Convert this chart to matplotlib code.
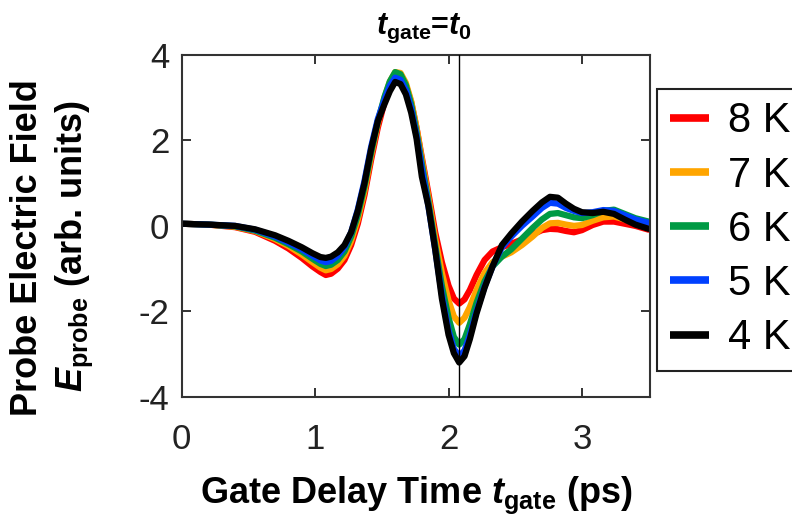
import numpy as np
import matplotlib
matplotlib.use('Agg')
import matplotlib.pyplot as plt

plt.rcParams['font.family'] = ['Liberation Sans', 'DejaVu Sans']
plt.rcParams['axes.unicode_minus'] = False
plt.rcParams['mathtext.fontset'] = 'custom'
plt.rcParams['mathtext.it'] = 'Liberation Sans:italic:bold'
plt.rcParams['mathtext.rm'] = 'Liberation Sans:bold'
plt.rcParams['mathtext.bf'] = 'Liberation Sans:bold'

# gate delay (ps)
t_gate = [0.00, 0.20, 0.40, 0.55, 0.70, 0.80, 0.90, 0.98, 1.04, 1.08, 1.12, 1.17,
          1.22, 1.27, 1.32, 1.37, 1.42, 1.47, 1.52, 1.56, 1.60, 1.64, 1.68, 1.72,
          1.76, 1.80, 1.85, 1.90, 1.95, 2.00, 2.04, 2.08, 2.12, 2.16, 2.21, 2.27,
          2.33, 2.40, 2.47, 2.55, 2.63, 2.70, 2.76, 2.82, 2.88, 2.94, 3.00, 3.08,
          3.16, 3.24, 3.32, 3.40, 3.50]

e_8K = [0.05, 0.03, -0.03, -0.14, -0.35, -0.53, -0.75, -0.95, -1.08, -1.15, -1.12, -1.00,
        -0.80, -0.45, 0.05, 0.72, 1.55, 2.30, 2.90, 3.30, 3.52, 3.52, 3.30, 2.90,
        2.30, 1.60, 0.75, -0.15, -0.85, -1.40, -1.70, -1.82, -1.72, -1.50, -1.15, -0.80,
        -0.60, -0.50, -0.42, -0.32, -0.20, -0.10, -0.07, -0.08, -0.12, -0.15, -0.10, 0.02,
        0.10, 0.10, 0.05, 0.00, -0.09]
e_7K = [0.05, 0.03, -0.02, -0.12, -0.31, -0.47, -0.67, -0.85, -0.98, -1.04, -1.01, -0.90,
        -0.70, -0.35, 0.15, 0.82, 1.65, 2.40, 3.00, 3.38, 3.60, 3.58, 3.35, 2.92,
        2.30, 1.55, 0.65, -0.30, -1.10, -1.75, -2.12, -2.27, -2.15, -1.90, -1.50, -1.10,
        -0.85, -0.72, -0.62, -0.45, -0.25, -0.05, 0.06, 0.07, 0.03, 0.00, 0.02, 0.12,
        0.20, 0.22, 0.15, 0.08, 0.03]
e_6K = [0.05, 0.03, -0.01, -0.11, -0.28, -0.43, -0.60, -0.77, -0.89, -0.94, -0.91, -0.80,
        -0.60, -0.25, 0.25, 0.92, 1.72, 2.45, 3.02, 3.38, 3.60, 3.55, 3.30, 2.85,
        2.20, 1.45, 0.55, -0.45, -1.40, -2.15, -2.60, -2.78, -2.65, -2.30, -1.80, -1.30,
        -0.95, -0.72, -0.55, -0.30, -0.05, 0.15, 0.28, 0.30, 0.25, 0.20, 0.18, 0.25,
        0.35, 0.38, 0.28, 0.18, 0.10]
e_5K = [0.05, 0.03, 0.00, -0.09, -0.25, -0.39, -0.55, -0.70, -0.81, -0.85, -0.82, -0.70,
        -0.50, -0.15, 0.38, 1.05, 1.85, 2.50, 2.95, 3.28, 3.47, 3.42, 3.18, 2.75,
        2.12, 1.35, 0.45, -0.55, -1.60, -2.45, -2.88, -3.05, -2.92, -2.55, -2.00, -1.42,
        -0.95, -0.50, -0.25, 0.00, 0.22, 0.42, 0.54, 0.52, 0.42, 0.35, 0.30, 0.32,
        0.37, 0.35, 0.25, 0.15, 0.07]
e_4K = [0.05, 0.03, 0.00, -0.08, -0.22, -0.35, -0.50, -0.64, -0.73, -0.75, -0.72, -0.62,
        -0.45, -0.15, 0.35, 1.00, 1.80, 2.45, 2.85, 3.15, 3.37, 3.32, 3.08, 2.65,
        2.05, 1.15, 0.45, -0.55, -1.70, -2.55, -2.98, -3.20, -3.05, -2.65, -2.05, -1.45,
        -0.95, -0.45, -0.18, 0.10, 0.35, 0.55, 0.68, 0.66, 0.52, 0.40, 0.32, 0.30,
        0.33, 0.28, 0.15, 0.03, -0.07]

labels = ['8 K', '7 K', '6 K', '5 K', '4 K']
colors = ['#ff0000', '#ffa500', '#009a44', '#0040ff', '#000000']
series = [e_8K, e_7K, e_6K, e_5K, e_4K]
t0 = 2.08

fig = plt.figure(figsize=(7.92, 5.22), dpi=100)
ax = fig.add_axes([0.2294, 0.240, 0.5913, 0.6546])

for y, c, lab in zip(series, colors, labels):
    ax.plot(t_gate, y, color=c, linewidth=4.5, label=lab,
            solid_capstyle='round', solid_joinstyle='round')

ax.axvline(t0, color='black', linewidth=1.0, zorder=5)

ax.set_xlim(0, 3.51)
ax.set_ylim(-4, 4)
ax.set_xticks([0, 1, 2, 3])
ax.set_yticks([-4, -2, 0, 2, 4])
ax.tick_params(direction='in', length=6.5, width=1.3, top=True, right=True,
               labelsize=25, colors='#222222')
ax.tick_params(axis='x', pad=19)
ax.tick_params(axis='y', pad=9)
for s in ax.spines.values():
    s.set_linewidth(1.5)
    s.set_color('#333333')

leg = fig.legend(loc='upper left', bbox_to_anchor=(657 / 792, 1 - 89 / 522),
                 bbox_transform=fig.transFigure, borderaxespad=0, fontsize=30,
                 handlelength=0.95, handletextpad=0.45, labelspacing=0.34,
                 borderpad=0.3, fancybox=False, framealpha=1)
leg.get_frame().set_edgecolor('#222222')
leg.get_frame().set_linewidth(1.5)
for h in leg.get_lines():
    h.set_linewidth(5.5)
    h.set_solid_capstyle('butt')

fig.text(424 / 792, 1 - 28 / 522, r'$t_{\mathrm{gate}}$=$t_0$', fontsize=22,
         fontweight='bold', ha='center', va='center')
fig.text(416 / 792, 1 - 495 / 522, r'Gate Delay Time $t_{\mathrm{gate}}$ (ps)',
         fontsize=26, fontweight='bold', ha='center', va='center')
fig.text(28 / 792, 1 - 248 / 522, 'Probe Electric Field', fontsize=26,
         fontweight='bold', rotation=90, ha='center', va='center')
fig.text(74 / 792, 1 - 246 / 522, r'$E_{\mathrm{probe}}$ (arb. units)', fontsize=26,
         fontweight='bold', rotation=90, ha='center', va='center')

fig.savefig('out.png', dpi=100)
